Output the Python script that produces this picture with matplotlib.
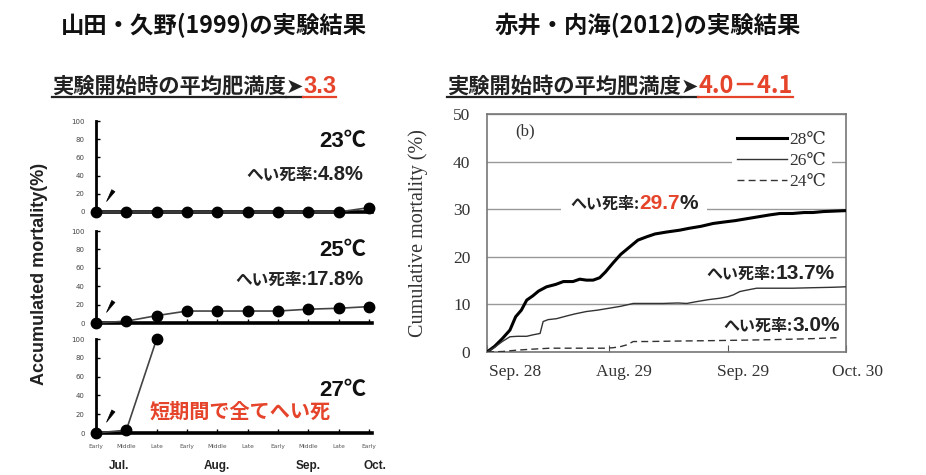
import matplotlib
matplotlib.use('Agg')
import matplotlib.pyplot as plt
from matplotlib.lines import Line2D
from matplotlib.patches import Rectangle
from matplotlib.transforms import IdentityTransform, ScaledTranslation

# ---------------- data ----------------
# Left: Yamada & Kuno (1999)
periods = ['Early', 'Middle', 'Late', 'Early', 'Middle', 'Late', 'Early', 'Middle', 'Late', 'Early']
months = ['Jul.', 'Aug.', 'Sep.', 'Oct.']
month_pos = [0.75, 4, 7, 9.2]
left_temps = ['23℃', '25℃', '27℃']
mort_23 = [0, 0, 0, 0, 0, 0, 0, 0, 0, 4.8]
mort_25 = [0, 2, 8, 13, 13, 13, 13, 15, 16, 17.8]
mort_27 = [0, 3, 100]
left_final = ['4.8%', '17.8%']
yticks_left = [0, 20, 40, 60, 80, 100]

# Right: Akai & Utsumi (2012)
right_xticks = [0, 32, 63, 94]
right_xlabels = ['Sep. 28', 'Aug. 29', 'Sep. 29', 'Oct. 30']
right_yticks = [0, 10, 20, 30, 40, 50]
days_28 = [0, 2, 4, 6, 7.5, 9, 10.4, 12, 13.5, 15.6, 18, 20, 22.5, 24.3, 26, 27.8, 29.5, 31, 33, 35,
           37.4, 39.5, 41.8, 44, 47, 50.5, 53, 56, 59.2, 62, 65, 68, 71, 74, 76.7, 80, 83, 85.3, 88, 91, 94]
mort_28 = [0, 1.2, 2.8, 4.6, 7.4, 8.8, 10.9, 11.8, 12.8, 13.7, 14.2, 14.8, 14.8, 15.3, 15.1, 15.1, 15.6,
           16.8, 18.7, 20.5, 22.1, 23.5, 24.2, 24.8, 25.2, 25.6, 26.0, 26.4, 27.0, 27.3, 27.6, 28.0,
           28.4, 28.8, 29.1, 29.1, 29.3, 29.3, 29.5, 29.6, 29.7]
days_26 = [0, 2, 4, 6, 8, 10.4, 12, 13.9, 14.7, 16, 18.2, 21, 23, 26, 29, 32, 35, 38.3, 42, 46, 50,
           52.3, 55, 58, 61, 63, 64.5, 66.2, 68, 70.6, 75, 80, 85, 90.6, 94]
mort_26 = [0, 1.0, 2.2, 3.2, 3.3, 3.3, 3.6, 3.9, 6.4, 6.8, 7.0, 7.6, 8.0, 8.5, 8.8, 9.2, 9.6, 10.2,
           10.2, 10.2, 10.3, 10.2, 10.6, 11.0, 11.3, 11.6, 12.0, 12.7, 13.0, 13.4, 13.4, 13.4, 13.5, 13.6, 13.7]
days_24 = [0, 4, 8, 12, 16.5, 20, 24, 28, 31.3, 33, 34.8, 36.6, 38.3, 42, 50, 60, 68, 75, 85, 91.5]
mort_24 = [0, 0.1, 0.4, 0.6, 0.8, 0.8, 0.8, 0.8, 0.8, 0.9, 1.1, 1.5, 2.2, 2.2, 2.3, 2.4, 2.5, 2.6, 2.8, 3.0]
right_labels = ['28℃', '26℃', '24℃']

# ---------------- figure ----------------
W, H = 926, 475
fig = plt.figure(figsize=(W / 100, H / 100), dpi=100)
fig.patch.set_facecolor('white')

JP = ['Noto Sans CJK JP', 'DejaVu Sans']
SANS = ['Liberation Sans', 'Noto Sans CJK JP', 'DejaVu Sans']
SERIF = ['Liberation Serif', 'DejaVu Serif']
RED = '#e5432a'

renderer = fig.canvas.get_renderer()


def rect(l, t, r, b):
    return [l / W, 1 - b / H, (r - l) / W, (b - t) / H]


def rich(x, y, pieces, ha='left', underline=False, bg_pad=None, ul_offset=4):
    texts = []
    for s, kw in pieces:
        t = fig.text(0, 0, s, transform=IdentityTransform(), ha='left', va='baseline', zorder=5, **kw)
        texts.append(t)
    widths = [t.get_window_extent(renderer).width for t in texts]
    total = sum(widths)
    if ha == 'right':
        x0 = x - total
    elif ha == 'center':
        x0 = x - total / 2
    else:
        x0 = x
    yb = H - y
    cur = x0
    for t, w in zip(texts, widths):
        t.set_position((cur, yb))
        if underline:
            fig.add_artist(Line2D([cur, cur + w], [yb - ul_offset] * 2, transform=IdentityTransform(),
                                  color=t.get_color(), lw=1.6, zorder=5))
        cur += w
    if bg_pad is not None:
        fig.add_artist(Rectangle((x0 - bg_pad, yb - 4), total + 2 * bg_pad, 16, transform=IdentityTransform(),
                                 facecolor='white', edgecolor='none', zorder=4))
    return x0, total


# ---------------- left panel ----------------
left_rects = [rect(96, 121, 372, 212), rect(96, 231, 372, 323), rect(96, 339, 372, 433)]
left_data = [mort_23, mort_25, mort_27]
left_axes = []
for i, (r, data) in enumerate(zip(left_rects, left_data)):
    ax = fig.add_axes(r)
    left_axes.append(ax)
    ax.plot(range(len(data)), data, color='#444', lw=1.2, marker='o', ms=7.5,
            mfc='black', mec='black', clip_on=False, zorder=5)
    ax.set_xlim(0, 9.1)
    ax.set_ylim(0, 100)
    for s in ['top', 'right']:
        ax.spines[s].set_visible(False)
    ax.spines['left'].set_linewidth(2.0)
    ax.spines['bottom'].set_linewidth(2.6)
    ax.set_yticks(yticks_left)
    ax.set_yticklabels([str(v) for v in yticks_left])
    ax.tick_params(axis='y', direction='in', length=3, width=1, labelsize=5, pad=8, labelcolor='#444')
    ax.set_xticks(range(len(periods)))
    if i == 2:
        ax.set_xticklabels(periods)
        ax.tick_params(axis='x', direction='in', length=3, width=1, labelsize=4.2, pad=8, labelcolor='#555')
    else:
        ax.set_xticklabels([])
        ax.tick_params(axis='x', direction='in', length=3, width=1)
    ax.patch.set_alpha(0)
    ax.annotate('', xy=(0.3, 9), xytext=(0.62, 26),
                arrowprops=dict(arrowstyle='wedge,tail_width=0.45', color='black', lw=0.5,
                                mutation_scale=6))

ax3 = left_axes[2]
for m, p in zip(months, month_pos):
    ax3.text(p, -0.35, m, transform=ax3.get_xaxis_transform(), ha='center', va='center',
             fontsize=8.5, fontweight='bold', family=SANS, color='#222')

fig.text(40 / W, 1 - 274 / H, 'Accumulated mortality(%)', rotation=90, ha='center', va='center',
         fontsize=13, fontweight='bold', family=SANS, color='#222')

# temperature labels
for temp, base in zip(left_temps, [147, 256, 396]):
    rich(366, base, [(temp, dict(fontsize=16, fontweight='bold', family=SANS, color='#111'))], ha='right')
for val, base in zip(left_final, [180, 285]):
    rich(364, base, [('へい死率:', dict(fontsize=12, fontweight='bold', family=JP, color='#222')),
                     (val, dict(fontsize=14.5, fontweight='bold', family=SANS, color='#222'))], ha='right')
rich(150, 418, [('短期間で全てへい死', dict(fontsize=14.5, fontweight='bold', family=JP, color=RED))])

# titles
rich(214, 33, [('山田・久野(1999)の実験結果', dict(fontsize=16.8, fontweight='bold', family=JP, color='#111'))],
     ha='center')
rich(52, 93, [('実験開始時の平均肥満度', dict(fontsize=15.3, fontweight='bold', family=JP, color='#222')),
              ('➤', dict(fontsize=15, fontweight='bold', family=['DejaVu Sans'], color='#222')),
              ('3.3', dict(fontsize=17, fontweight='bold', family=SANS, color=RED))], underline=True)
rich(648, 33, [('赤井・内海(2012)の実験結果', dict(fontsize=16.8, fontweight='bold', family=JP, color='#111'))],
     ha='center')
rich(447, 93, [('実験開始時の平均肥満度', dict(fontsize=15.3, fontweight='bold', family=JP, color='#222')),
               ('➤', dict(fontsize=15, fontweight='bold', family=['DejaVu Sans'], color='#222')),
               ('4.0－4.1', dict(fontsize=17, fontweight='bold', family=JP, color=RED))], underline=True)

# ---------------- right panel ----------------
axR = fig.add_axes(rect(487, 114, 846, 352))
l28, = axR.plot(days_28, mort_28, color='black', lw=2.2, zorder=3)
l26, = axR.plot(days_26, mort_26, color='#333', lw=1.0, zorder=3)
l24, = axR.plot(days_24, mort_24, color='#333', lw=1.0, ls=(0, (5, 3)), zorder=3)
axR.set_xlim(0, 94)
axR.set_ylim(0, 50)
axR.set_yticks(right_yticks)
axR.set_yticklabels([str(v) for v in right_yticks], family=SERIF, fontsize=12.5, color='#333')
axR.tick_params(axis='y', length=0, pad=12)
axR.set_xticks(right_xticks)
axR.set_xticklabels([])
axR.tick_params(axis='x', direction='in', length=5, color='#555')
axR.yaxis.grid(True, color='#999', lw=1.0)
axR.set_axisbelow(True)
for s in axR.spines.values():
    s.set_color('#777')
    s.set_linewidth(1.2)
label_offsets = [28, 15, 15, 11]
for d, lab, off in zip(right_xticks, right_xlabels, label_offsets):
    axR.text(d, -0.085, lab, transform=axR.get_xaxis_transform() + ScaledTranslation(off / 100, 0, fig.dpi_scale_trans),
             ha='center', va='center', family=SERIF, fontsize=12.5, color='#333')
axR.text(0.106, 0.928, '(b)', transform=axR.transAxes, ha='center', va='center', family=SERIF, fontsize=12, color='#333')
leg = axR.legend([l28, l26, l24], right_labels, loc='upper right', bbox_to_anchor=(0.985, 0.985),
                 prop=dict(family=SERIF, size=12.5), frameon=True, facecolor='white', edgecolor='none',
                 framealpha=1, handlelength=2.9, handletextpad=0.15, labelspacing=0.3, borderpad=0.3)
for t in leg.get_texts():
    t.set_color('#333')

fig.text(418 / W, 1 - 233 / H, 'Cumulative mortality (%)', rotation=90, ha='center', va='center',
         family=SERIF, fontsize=14.5, color='#333')

rich(570, 209, [('へい死率:', dict(fontsize=11.5, fontweight='bold', family=JP, color='#222')),
                ('29.7', dict(fontsize=15, fontweight='bold', family=SANS, color=RED)),
                ('%', dict(fontsize=15, fontweight='bold', family=SANS, color='#222'))], bg_pad=9)
rich(835, 279, [('へい死率:', dict(fontsize=11.5, fontweight='bold', family=JP, color='#222')),
                ('13.7%', dict(fontsize=15, fontweight='bold', family=SANS, color='#222'))], ha='right')
rich(840, 331, [('へい死率:', dict(fontsize=11.5, fontweight='bold', family=JP, color='#222')),
                ('3.0%', dict(fontsize=15, fontweight='bold', family=SANS, color='#222'))], ha='right')

fig.savefig('out.png', dpi=100, facecolor='white')
